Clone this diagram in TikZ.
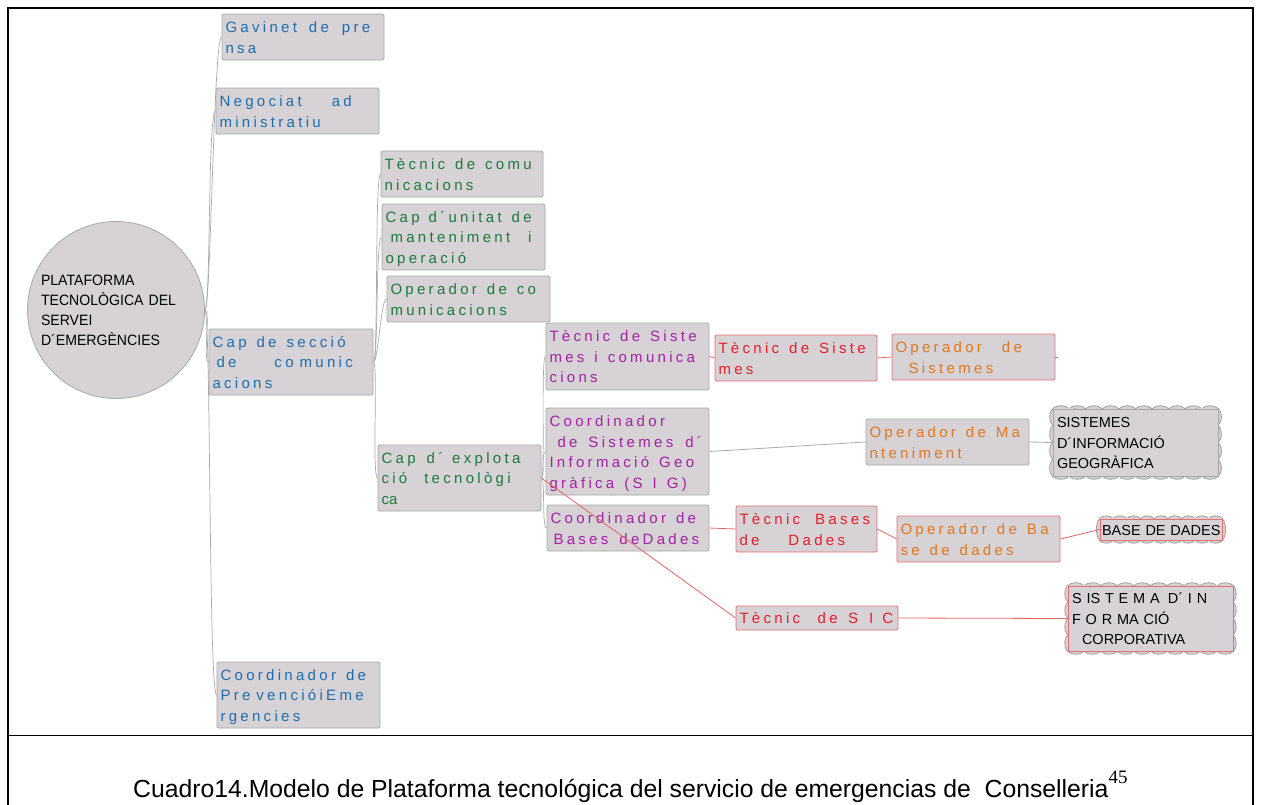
\documentclass[tikz,border=0pt]{standalone}
\usepackage{fontspec}
\setmainfont{Liberation Sans}
\newfontfamily\boxfont[LetterSpace=22]{Liberation Sans}
\newfontfamily\circfont[FakeStretch=0.94]{Liberation Sans}
\newfontfamily\serfont{Liberation Serif}
\usetikzlibrary{backgrounds}
\definecolor{boxfill}{RGB}{214,210,214}
\definecolor{boxgray}{RGB}{168,168,168}
\definecolor{boxred}{RGB}{234,110,110}
\definecolor{cloudgray}{RGB}{160,160,160}
\definecolor{tblue}{RGB}{30,110,175}
\definecolor{tgreen}{RGB}{28,122,60}
\definecolor{tpurple}{RGB}{165,32,165}
\definecolor{tred}{RGB}{232,30,40}
\definecolor{torange}{RGB}{226,120,30}
\definecolor{lgray}{RGB}{170,170,170}
\definecolor{lred}{RGB}{230,100,100}
\newcommand\Bst{\rule[-4.5pt]{0pt}{20.5pt}}
\newcommand\Cst{\rule[-4.5pt]{0pt}{20pt}}
\newcommand\wg{\hspace{10pt}}
\newcommand\hs[1]{\hspace{#1pt}}
% scalloped outline: x1 y1 x2 y2 nx ny rx ry
\newcommand\scal[8]{%
  \pgfmathsetmacro\scw{(#3-#1)/#5}%
  \pgfmathsetmacro\sch{(#4-#2)/#6}%
  \pgfmathsetmacro\scdx{sqrt(#7*#7-\scw*\scw/4)}%
  \pgfmathsetmacro\scdy{sqrt(#8*#8-\sch*\sch/4)}%
  \begin{scope}
    \clip (#1,#2-12) rectangle (#3,#4+12);
    \foreach \i in {1,...,#5}{%
      \draw[scallop] ({#1+(\i-0.5)*\scw},{#2+\scdx}) circle[radius=#7];
      \draw[scallop] ({#1+(\i-0.5)*\scw},{#4-\scdx}) circle[radius=#7];}%
  \end{scope}
  \begin{scope}
    \clip (#1-12,#2) rectangle (#3+12,#4);
    \foreach \i in {1,...,#6}{%
      \draw[scallop] ({#1+\scdy},{#2+(\i-0.5)*\sch}) circle[radius=#8];
      \draw[scallop] ({#3-\scdy},{#2+(\i-0.5)*\sch}) circle[radius=#8];}%
  \end{scope}
}
\begin{document}
\begin{tikzpicture}[x=1pt,y=-1pt,
  frame/.style={line width=1.6pt, black},
  bx/.style={rectangle, rounded corners=1.5pt, fill=boxfill, draw=boxgray, line width=0.8pt,
    inner xsep=3.5pt, inner ysep=0pt, align=left,
    font=\boxfont\fontsize{15}{20.5}\selectfont,
    execute at begin node=\Bst, execute at end node=\Bst},
  rbx/.style={bx, draw=boxred},
  wh/.style n args={3}{minimum width=#1pt, minimum height=#2pt, text width=#3pt},
  cl/.style={bx, rounded corners=0pt, text=black, font=\fontsize{14.5}{20.5}\selectfont},
  circ/.style={circle, fill=boxfill, draw=boxgray, line width=0.8pt, inner sep=0pt,
    minimum size=177pt, text width=150pt, align=left,
    font=\circfont\fontsize{15}{20}\selectfont,
    execute at begin node=\Cst, execute at end node=\Cst},
  scallop/.style={draw=cloudgray, fill=boxfill, line width=0.8pt},
  tree/.style={draw=lgray, line width=0.7pt},
  gline/.style={draw=lgray, line width=0.8pt},
  rline/.style={draw=lred, line width=0.8pt}]
\useasboundingbox (0,0) rectangle (1261,804);
% frame
\draw[frame] (8,806) -- (8,8) -- (1253,8) -- (1253,806);
\draw[frame] (8,735.5) -- (1253,735.5);
% root
\node[circ] (root) at (116,310) {PLATAFORMA\\TECNOLÒGICA DEL\\SERVEI\\D´EMERGÈNCIES};
% level 1
\node[bx, text=tblue, wh={162}{46}{155}] (gav) at (303,37) {Gavinet\hs{12}de\hs{13}pre\\nsa};
\node[bx, text=tblue, wh={163}{46}{156}] (neg) at (297.5,111) {Negociat\hs{30}ad\\ministratiu};
\node[bx, text=tblue, wh={164}{66}{157}] (sec) at (291,362) {Cap\wg de\wg secció\\\hspace*{4pt}de\hs{38}co\hs{6}munic\\acions};
\node[bx, text=tblue, wh={163}{66}{156}] (prev) at (298.5,695) {Coordinador\wg de\\Pre\hs{6}vencióiEme\\rgencies};
% level 2
\node[bx, text=tgreen, wh={162}{46}{155}] (tcom) at (462,174) {Tècnic\wg de\wg comu\\nicacions};
\node[bx, text=tgreen, wh={163}{66}{156}] (cuni) at (463.5,237) {Cap\hs{9}d´unitat\wg de\\\hspace*{5pt}manteniment\hs{18}i\\operació};
\node[bx, text=tgreen, wh={163}{46}{156}] (ocom) at (468.5,299) {Operador\wg de\wg co\\municacions};
\node[bx, text=tgreen, wh={163}{66}{156}] (expl) at (459.5,478) {Cap\hs{11}d´\hs{9}explota\\ció\hs{17}tecnològi\\{\addfontfeature{LetterSpace=0}ca}};
% level 3
\node[bx, text=tpurple, wh={163}{67}{156}] (tsc) at (627.5,356.5) {Tècnic\wg de\wg Siste\\mes\wg i\wg comunica\\cions};
\node[bx, text=tpurple, wh={163}{87}{156}] (sig) at (627.5,451.5) {Coordinador\\\hspace*{8pt}de\hs{11}Sistemes\hs{12}d´\\Informació\wg Geo\\gràfica\wg (S\wg I\wg G)};
\node[bx, text=tpurple, wh={162}{46}{155}] (cbd) at (628,528) {Coordinador\wg de\\\hspace*{3pt}Bases\hs{11}deDades};
% level 4+
\node[rbx, text=tred, wh={162}{46}{155}] (ts) at (796,358) {Tècnic\wg de\wg Siste\\mes};
\node[rbx, text=torange, wh={163}{46}{156}] (os) at (973.5,357) {Operador\hs{20}de\\\hspace*{13pt}Sistemes};
\node[bx, text=torange, wh={163}{46}{156}] (om) at (947.5,442) {Operador\wg de\wg Ma\\nteniment};
\node[rbx, text=tred, wh={141}{46}{134}] (tbd) at (806.5,529) {Tècnic\hs{15}Bases\\de\hs{29}Dades};
\node[rbx, text=torange, wh={163}{46}{156}] (obd) at (978.5,539) {Operador\wg de\wg Ba\\se\wg de\wg dades};
\node[rbx, text=tred, wh={162}{24}{155}] (tsic) at (817,618) {Tècnic\hs{17.5}de\hs{10.5}S\hs{11}I\hs{9}C};
% clouds
\node[cl, wh={165}{67}{157}] (sisg) at (1135.5,442.5) {SISTEMES\\D´INFORMACIÓ\\GEOGRÀFICA};
\node[cl, draw=boxred, inner xsep=1pt, wh={122}{21}{120}] (bdd) at (1161,529.5) {\hspace*{1pt}BASE DE DADES};
\node[cl, draw=boxred, wh={165}{65}{157}] (sicc) at (1150.5,618.5) {S IS T E M A\hs{8}D´ I N\\F O R MA CIÓ\\\hspace*{10pt}CORPORATIVA};
\begin{scope}[on background layer]
\scal{1052.5}{408.5}{1218.5}{476.5}{10}{4}{14}{14}
\scal{1099.5}{518.5}{1222.5}{540.5}{9}{1}{10}{20.6}
\scal{1067.5}{585.5}{1233.5}{651.5}{10}{4}{14}{14}
\end{scope}
% connectors
\draw[tree] (root.east) .. controls +(6,0) and +(-8,0) .. (gav.west);
\draw[tree] (root.east) .. controls +(6,0) and +(-8,0) .. (neg.west);
\draw[tree] (root.east) .. controls +(6,0) and +(-6,0) .. (sec.west);
\draw[tree] (root.east) .. controls +(6,0) and +(-8,0) .. (prev.west);
\draw[tree] (sec.east) .. controls +(5,0) and +(-6,0) .. (tcom.west);
\draw[tree] (sec.east) .. controls +(5,0) and +(-6,0) .. (cuni.west);
\draw[tree] (sec.east) .. controls +(5,0) and +(-6,0) .. (ocom.west);
\draw[tree] (sec.east) .. controls +(5,0) and +(-6,0) .. (expl.west);
\draw[tree] (expl.east) .. controls +(4,0) and +(-5,0) .. (tsc.west);
\draw[tree] (expl.east) .. controls +(4,0) and +(-5,0) .. (sig.west);
\draw[tree] (expl.east) .. controls +(4,0) and +(-5,0) .. (cbd.west);
\draw[gline] (sig.east) -- (om.west);
\draw[gline] (om.east) -- (sisg.west);
\draw[rline] (tsc.east) -- (ts.west);
\draw[rline] (ts.east) -- (os.west);
\draw[rline] (os.east) -- +(3,0);
\draw[rline] (cbd.east) -- (tbd.west);
\draw[rline] (tbd.east) -- (obd.west);
\draw[rline] (obd.east) -- (bdd.west);
\draw[rline] (expl.east) -- (tsic.west);
\draw[rline] (tsic.east) -- (sicc.west);
% caption
\node[anchor=base west, inner sep=0pt, font=\fontsize{24.75}{28}\selectfont] (cap) at (133,797)
  {Cuadro14.Modelo de Plataforma tecnológica del servicio de emergencias de\ \ Conselleria\raisebox{14pt}{\serfont\fontsize{19}{19}\selectfont 45}};
\end{tikzpicture}
\end{document}
